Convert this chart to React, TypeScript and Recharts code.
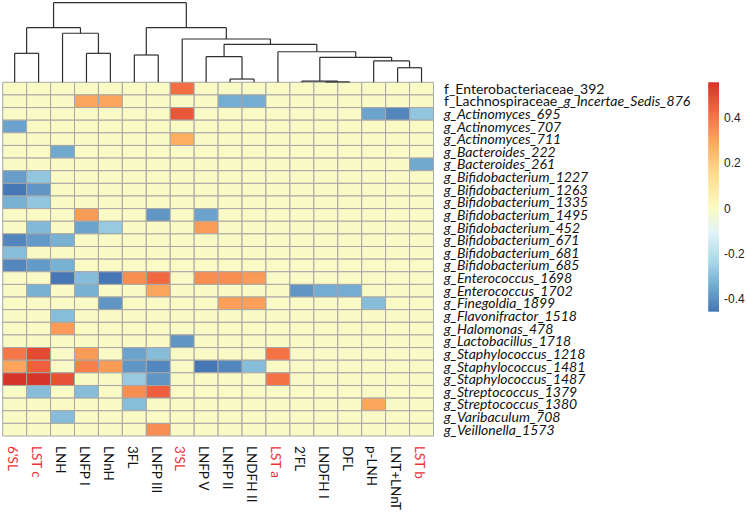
import React from 'react';
import { ComposedChart, XAxis, YAxis, ReferenceArea, ReferenceLine, Scatter } from 'recharts';

const COLUMNS = ["6'SL", 'LST c', 'LNH', 'LNFP I', 'LNnH', '3FL', 'LNFP III', "3'SL", 'LNFP V', 'LNFP II', 'LNDFH II', 'LST a', '2\u2019FL', 'LNDFH I', 'DFL', 'p-LNH', 'LNT+LNnT', 'LST b'];
const RED_COLUMNS = ["6'SL", 'LST c', "3'SL", 'LST a', 'LST b'];

const ROWS = [
  'f_Enterobacteriaceae_392',
  'f_Lachnospiraceae_g_Incertae_Sedis_876',
  'g_Actinomyces_695',
  'g_Actinomyces_707',
  'g_Actinomyces_711',
  'g_Bacteroides_222',
  'g_Bacteroides_261',
  'g_Bifidobacterium_1227',
  'g_Bifidobacterium_1263',
  'g_Bifidobacterium_1335',
  'g_Bifidobacterium_1495',
  'g_Bifidobacterium_452',
  'g_Bifidobacterium_671',
  'g_Bifidobacterium_681',
  'g_Bifidobacterium_685',
  'g_Enterococcus_1698',
  'g_Enterococcus_1702',
  'g_Finegoldia_1899',
  'g_Flavonifractor_1518',
  'g_Halomonas_478',
  'g_Lactobacillus_1718',
  'g_Staphylococcus_1218',
  'g_Staphylococcus_1481',
  'g_Staphylococcus_1487',
  'g_Streptococcus_1379',
  'g_Streptococcus_1380',
  'g_Varibaculum_708',
  'g_Veillonella_1573',
];

// correlation values, one row per taxon, one column per HMO (column order above)
const VALUES: number[][] = [
  [0, 0, 0, 0, 0, 0, 0, 0.42, 0, 0, 0, 0, 0, 0, 0, 0, 0, 0],
  [0, 0, 0, 0.3, 0.3, 0, 0, 0, 0, -0.34, -0.34, 0, 0, 0, 0, 0, 0, 0],
  [0, 0, 0, 0, 0, 0, 0, 0.47, 0, 0, 0, 0, 0, 0, 0, -0.36, -0.42, -0.28],
  [-0.36, 0, 0, 0, 0, 0, 0, 0, 0, 0, 0, 0, 0, 0, 0, 0, 0, 0],
  [0, 0, 0, 0, 0, 0, 0, 0.28, 0, 0, 0, 0, 0, 0, 0, 0, 0, 0],
  [0, 0, -0.35, 0, 0, 0, 0, 0, 0, 0, 0, 0, 0, 0, 0, 0, 0, 0],
  [0, 0, 0, 0, 0, 0, 0, 0, 0, 0, 0, 0, 0, 0, 0, 0, 0, -0.35],
  [-0.37, -0.28, 0, 0, 0, 0, 0, 0, 0, 0, 0, 0, 0, 0, 0, 0, 0, 0],
  [-0.45, -0.39, 0, 0, 0, 0, 0, 0, 0, 0, 0, 0, 0, 0, 0, 0, 0, 0],
  [-0.33, -0.28, 0, 0, 0, 0, 0, 0, 0, 0, 0, 0, 0, 0, 0, 0, 0, 0],
  [0, 0, 0, 0.32, 0, 0, -0.39, 0, -0.36, 0, 0, 0, 0, 0, 0, 0, 0, 0],
  [0, -0.31, 0, -0.36, -0.27, 0, 0, 0, 0.32, 0, 0, 0, 0, 0, 0, 0, 0, 0],
  [-0.42, -0.38, -0.33, 0, 0, 0, 0, 0, 0, 0, 0, 0, 0, 0, 0, 0, 0, 0],
  [-0.3, 0, 0, 0, 0, 0, 0, 0, 0, 0, 0, 0, 0, 0, 0, 0, 0, 0],
  [-0.42, -0.38, -0.33, 0, 0, 0, 0, 0, 0, 0, 0, 0, 0, 0, 0, 0, 0, 0],
  [0, 0, -0.45, -0.3, -0.45, 0.35, 0.43, 0, 0.35, 0.35, 0.32, 0, 0, 0, 0, 0, 0, 0],
  [0, -0.33, 0, -0.33, 0, 0, 0.3, 0, 0, 0, 0, 0, -0.39, -0.34, -0.34, 0, 0, 0],
  [0, 0, 0, 0, -0.39, 0, 0, 0, 0, 0.31, 0.31, 0, 0, 0, 0, -0.3, 0, 0],
  [0, 0, -0.3, 0, 0, 0, 0, 0, 0, 0, 0, 0, 0, 0, 0, 0, 0, 0],
  [0, 0, 0.32, 0, 0, 0, 0, 0, 0, 0, 0, 0, 0, 0, 0, 0, 0, 0],
  [0, 0, 0, 0, 0, 0, 0, -0.39, 0, 0, 0, 0, 0, 0, 0, 0, 0, 0],
  [0.4, 0.5, 0, 0.32, 0, -0.36, -0.3, 0, 0, 0, 0, 0.41, 0, 0, 0, 0, 0, 0],
  [0.3, 0.45, 0, 0.38, 0.32, -0.39, -0.42, 0, -0.45, -0.42, -0.3, 0, 0, 0, 0, 0, 0, 0],
  [0.55, 0.55, 0.48, 0, 0, -0.27, -0.39, 0, 0, 0, 0, 0.41, 0, 0, 0, 0, 0, 0],
  [0, -0.3, 0, -0.3, 0, 0.35, 0.45, 0, 0, 0, 0, 0, 0, 0, 0, 0, 0, 0],
  [0, 0, 0, 0, 0, -0.3, 0, 0, 0, 0, 0, 0, 0, 0, 0, 0.3, 0, 0],
  [0, 0, -0.3, 0, 0, 0, 0, 0, 0, 0, 0, 0, 0, 0, 0, 0, 0, 0],
  [0, 0, 0, 0, 0, 0, 0.35, 0, 0, 0, 0, 0, 0, 0, 0, 0, 0, 0],
];

// column dendrogram: [left node, right node, height]; nodes < 18 are columns, later ids are merges in order
const DENDRO_MERGES: [number, number, number][] = [
  [9, 10, 0.041],
  [13, 14, 0.005],
  [12, 19, 0.015],
  [16, 17, 0.183],
  [15, 21, 0.268],
  [20, 22, 0.314],
  [11, 23, 0.384],
  [8, 18, 0.322],
  [25, 24, 0.477],
  [7, 26, 0.544],
  [5, 6, 0.343],
  [28, 27, 0.686],
  [0, 1, 0.364],
  [3, 4, 0.364],
  [2, 31, 0.616],
  [30, 32, 0.686],
  [33, 29, 1.0],
];

const COLOR_STOPS: [number, string][] = [
  [-0.455, '#4575b4'],
  [-0.34, '#74add1'],
  [-0.23, '#abd9e9'],
  [-0.11, '#e0f3f8'],
  [0, '#fafac6'],
  [0.14, '#fee090'],
  [0.28, '#fdae61'],
  [0.42, '#f46d43'],
  [0.556, '#d73027'],
];
const CBAR_TICKS = [0.4, 0.2, 0, -0.2, -0.4];
const CBAR_RANGE: [number, number] = [-0.455, 0.556];
const CBAR_STEPS = 150;

const hexToRgb = (h: string) => [1, 3, 5].map((i) => parseInt(h.slice(i, i + 2), 16));
function colorFor(v: number): string {
  if (v <= COLOR_STOPS[0][0]) return COLOR_STOPS[0][1];
  for (let i = 1; i < COLOR_STOPS.length; i++) {
    const [v1, c1] = COLOR_STOPS[i];
    const [v0, c0] = COLOR_STOPS[i - 1];
    if (v <= v1) {
      const t = (v - v0) / (v1 - v0);
      const a = hexToRgb(c0);
      const b = hexToRgb(c1);
      const m = a.map((x, k) => Math.round(x + (b[k] - x) * t));
      return `rgb(${m[0]},${m[1]},${m[2]})`;
    }
  }
  return COLOR_STOPS[COLOR_STOPS.length - 1][1];
}

function dendroSegments() {
  const xs: number[] = COLUMNS.map((_, i) => i + 0.5);
  const hs: number[] = COLUMNS.map(() => 0);
  const segs: { x: number; y: number }[][] = [];
  DENDRO_MERGES.forEach(([a, b, h]) => {
    const xa = xs[a];
    const xb = xs[b];
    segs.push([{ x: xa, y: hs[a] }, { x: xa, y: h }]);
    segs.push([{ x: xb, y: hs[b] }, { x: xb, y: h }]);
    segs.push([{ x: xa, y: h }, { x: xb, y: h }]);
    xs.push((xa + xb) / 2);
    hs.push(h);
  });
  return segs;
}

const LABEL_FONT = 'Lato, "Open Sans", sans-serif';

function RowTick(props: any) {
  const { x, y, payload } = props;
  const i = Math.floor(payload.value);
  const name = ROWS[i];
  if (!name) return <g />;
  const gi = name.indexOf('g_');
  let content: React.ReactNode;
  if (gi === 0) content = <tspan fontStyle="italic">{name}</tspan>;
  else if (gi > 0)
    content = (
      <>
        <tspan>{name.slice(0, gi)}</tspan>
        <tspan fontStyle="italic">{name.slice(gi)}</tspan>
      </>
    );
  else content = name;
  return (
    <text x={x} y={y} dy="0.36em" textAnchor="start" fontFamily={LABEL_FONT} fontSize={14} fill="#111">
      {content}
    </text>
  );
}

function ColTick(props: any) {
  const { x, y, payload } = props;
  const i = Math.floor(payload.value);
  const name = COLUMNS[i];
  if (!name) return <g />;
  const red = RED_COLUMNS.includes(name);
  return (
    <text
      x={x}
      y={y}
      dy="0.5em"
      textAnchor="start"
      transform={`rotate(90, ${x}, ${y})`}
      fontFamily={LABEL_FONT}
      fontSize={13.5}
      fill={red ? '#ee3030' : '#111'}
    >
      {name}
    </text>
  );
}

export default function App() {
  const cells: { x: number; y: number; v: number; r: number; c: number }[] = [];
  VALUES.forEach((row, r) => row.forEach((v, c) => cells.push({ x: c + 0.5, y: r + 0.5, v, r, c })));
  const segs = dendroSegments();
  const colTicks = COLUMNS.map((_, i) => i + 0.5);
  const rowTicks = ROWS.map((_, i) => i + 0.5);
  const [lo, hi] = CBAR_RANGE;
  const step = (hi - lo) / CBAR_STEPS;
  const slices = Array.from({ length: CBAR_STEPS }, (_, k) => lo + k * step);

  return (
    <div style={{ position: 'absolute', left: 0, top: 0, width: 747, height: 512, background: '#fff' }}>
      <div style={{ position: 'absolute', left: 0, top: 0 }}>
        <ComposedChart width={700} height={512} margin={{ top: 2.7, right: 0, bottom: 0, left: 2.7 }}>
          <XAxis
            xAxisId="x"
            type="number"
            dataKey="x"
            domain={[0, 18]}
            ticks={colTicks}
            interval={0}
            height={76}
            axisLine={false}
            tickLine={false}
            tickSize={0}
            tickMargin={10}
            tick={(p: any) => <ColTick {...p} />}
            allowDataOverflow
          />
          <YAxis
            yAxisId="rows"
            type="number"
            dataKey="y"
            orientation="right"
            domain={[-6.3, 28]}
            reversed
            ticks={rowTicks}
            interval={0}
            width={266.5}
            axisLine={false}
            tickLine={false}
            tickSize={0}
            tickMargin={10.5}
            tick={(p: any) => <RowTick {...p} />}
            allowDataOverflow
          />
          <YAxis yAxisId="dendro" type="number" domain={[-4.443, 1]} hide width={0} allowDataOverflow />
          <Scatter
            xAxisId="x"
            yAxisId="rows"
            data={cells}
            dataKey="y"
            isAnimationActive={false}
            shape={() => <g />}
          />
          {cells.map((d) => (
            <ReferenceArea
              key={`c-${d.r}-${d.c}`}
              xAxisId="x"
              yAxisId="rows"
              x1={d.c}
              x2={d.c + 1}
              y1={d.r}
              y2={d.r + 1}
              fill={colorFor(d.v)}
              fillOpacity={1}
              stroke="#a6a6a6"
              strokeWidth={1}
            />
          ))}
          {segs.map((s, i) => (
            <ReferenceLine
              key={`d-${i}`}
              xAxisId="x"
              yAxisId="dendro"
              segment={s}
              stroke="#2e2e2e"
              strokeWidth={1.2}
            />
          ))}
        </ComposedChart>
      </div>
      <div style={{ position: 'absolute', left: 700, top: 0 }}>
        <ComposedChart width={47} height={512} margin={{ top: 82.3, right: 0, bottom: 200.3, left: 8.3 }}>
          <XAxis xAxisId="cx" type="number" dataKey="x" domain={[0, 1]} hide height={0} allowDataOverflow />
          <YAxis
            yAxisId="cy"
            type="number"
            dataKey="y"
            orientation="right"
            domain={CBAR_RANGE}
            ticks={CBAR_TICKS}
            interval={0}
            width={28}
            axisLine={false}
            tickLine={false}
            tickSize={0}
            tickMargin={5}
            tick={{ fontSize: 12, fill: '#222', fontFamily: '"Liberation Sans", Arial, sans-serif' }}
            allowDataOverflow
          />
          <Scatter
            xAxisId="cx"
            yAxisId="cy"
            data={[{ x: 0.5, y: 0 }]}
            dataKey="y"
            isAnimationActive={false}
            shape={() => <g />}
          />
          {slices.map((v, k) => (
            <ReferenceArea
              key={`s-${k}`}
              xAxisId="cx"
              yAxisId="cy"
              x1={0}
              x2={1}
              y1={v}
              y2={Math.min(hi, v + step * 1.6)}
              fill={colorFor(v + step / 2)}
              fillOpacity={1}
              stroke="none"
            />
          ))}
        </ComposedChart>
      </div>
    </div>
  );
}
